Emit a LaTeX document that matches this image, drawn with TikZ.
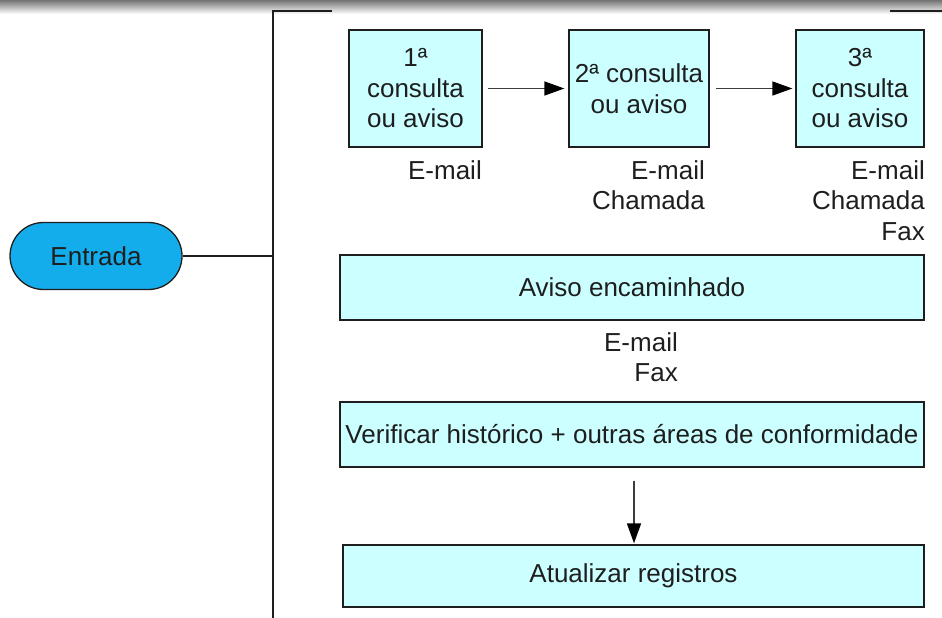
\documentclass[tikz,border=0pt]{standalone}
\usepackage{fontspec}
\setmainfont{Liberation Sans}
\usetikzlibrary{arrows.meta}
\definecolor{boxfill}{RGB}{204,255,255}
\definecolor{pillfill}{RGB}{20,173,235}
\definecolor{ink}{RGB}{30,30,30}
\definecolor{lineink}{RGB}{60,60,60}
\begin{document}
\begin{tikzpicture}[x=1pt,y=-1pt,
  every node/.style={font=\fontsize{26}{30.5}\selectfont, text=ink},
  stepbox/.style={draw=ink, line width=1.3pt, fill=boxfill, align=center, inner sep=0pt},
  lbl/.style={align=right, inner sep=0pt, anchor=north east},
  conn/.style={draw=ink, line width=1.3pt},
  arr/.style={draw=lineink, line width=1.6pt, -{Triangle[length=20pt,width=14pt,color=black]}}]
\useasboundingbox (0,0) rectangle (942,618);
\shade[top color=black!55, bottom color=white] (0,0) rectangle (942,14);
% bracket
\coordinate (btop) at (273,11);
\coordinate (bmid) at (273,256);
\coordinate (bbot) at (273,618);
\coordinate (tl) at (332,11);
\coordinate (tr1) at (890,11);
\coordinate (tr2) at (942,11);
\draw[conn] (tl) -- (btop) -- (bbot);
\draw[conn] (tr1) -- (tr2);
% entrada
\node[draw=ink, line width=1.3pt, fill=pillfill, rounded corners=33.5pt, minimum width=172pt, minimum height=67pt, inner sep=0pt] (entrada) at (96,256) {Entrada};
\draw[conn] (entrada) -- (bmid);
% top boxes
\node[stepbox, minimum width=133pt, minimum height=117pt] (b1) at (415.5,88.5) {1ª\\consulta\\ou aviso};
\node[stepbox, minimum width=140pt, minimum height=117pt] (b2) at (639,88.5) {2ª consulta\\ou aviso};
\node[stepbox, minimum width=128pt, minimum height=117pt] (b3) at (860,88.5) {3ª\\consulta\\ou aviso};
\draw[arr, shorten <=5pt, shorten >=4pt] (b1) -- (b2);
\draw[arr, shorten <=6pt, shorten >=3pt] (b2) -- (b3);
% labels
\node[lbl] (l1) at (482,160) {E-mail};
\node[lbl] (l2) at (705,160) {E-mail\\Chamada};
\node[lbl] (l3) at (925,160) {E-mail\\Chamada\\Fax};
% wide boxes
\node[stepbox, minimum width=584pt, minimum height=65pt] (aviso) at (632,287.5) {Aviso encaminhado};
\node[lbl] (l4) at (678,332) {E-mail\\Fax};
\node[stepbox, minimum width=584pt, minimum height=65pt] (verif) at (632,434.5) {Verificar histórico + outras áreas de conformidade};
\node[stepbox, minimum width=581pt, minimum height=62pt] (atual) at (633.5,576) {Atualizar registros};
\draw[arr, shorten <=13pt, shorten >=1pt] (verif.south -| 634,0) -- (atual.north -| 634,0);
\end{tikzpicture}
\end{document}
